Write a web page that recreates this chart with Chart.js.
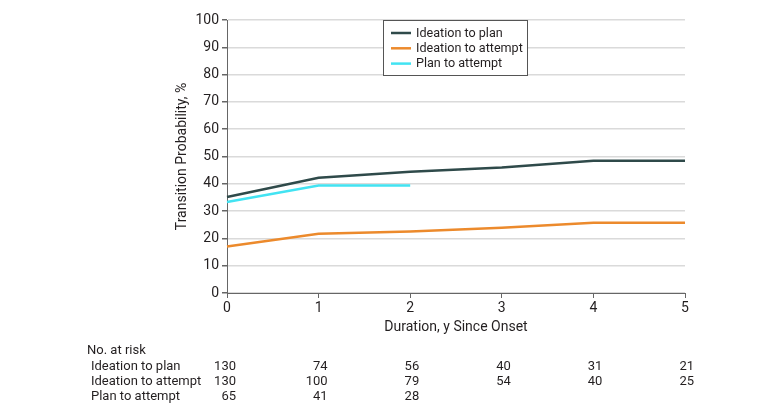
<!DOCTYPE html>
<html>
<head>
<meta charset="utf-8">
<script src="https://cdn.jsdelivr.net/npm/chart.js@4.4.1/dist/chart.umd.min.js"></script>
<style>
  body { margin: 0; background: #fff; }
  #chart { display: block; }
</style>
</head>
<body>
<canvas id="chart" width="780" height="418"></canvas>
<script>
// values
const years = [0, 1, 2, 3, 4, 5];
const ideationToPlan = [35.2, 42.2, 44.4, 46.0, 48.4, 48.4];
const ideationToAttempt = [17.0, 21.7, 22.5, 23.9, 25.7, 25.7];
const planToAttempt = [33.3, 39.4, 39.4, null, null, null];

// number at risk table
const riskRows = ["Ideation to plan", "Ideation to attempt", "Plan to attempt"];
const riskIdeationToPlan = [130, 74, 56, 40, 31, 21];
const riskIdeationToAttempt = [130, 100, 79, 54, 40, 25];
const riskPlanToAttempt = [65, 41, 28];

const textColor = "#231f20";
const fontName = 'Roboto, sans-serif';
Chart.defaults.font.family = fontName;
Chart.defaults.font.size = 13.5;
Chart.defaults.color = textColor;

// boxed legend drawn inside the plot
const boxLegend = {
    id: "boxLegend",
    afterDraw(chart) {
        const ctx = chart.ctx;
        const x = 383.5, y = 20.5, w = 144, h = 55;
        ctx.save();
        ctx.fillStyle = "#fff";
        ctx.fillRect(x, y, w, h);
        ctx.strokeStyle = "#555";
        ctx.lineWidth = 1;
        ctx.strokeRect(x, y, w, h);
        ctx.font = '12.6px ' + fontName;
        ctx.textBaseline = "middle";
        chart.data.datasets.forEach((ds, i) => {
            const cy = 33 + i * 15.3;
            ctx.strokeStyle = ds.borderColor;
            ctx.lineWidth = 2.5;
            ctx.beginPath();
            ctx.moveTo(391, cy);
            ctx.lineTo(411, cy);
            ctx.stroke();
            ctx.fillStyle = textColor;
            ctx.fillText(ds.label, 416, cy + 0.5);
        });
        ctx.restore();
    }
};

// "No. at risk" table under the x axis
const riskTable = {
    id: "riskTable",
    afterDraw(chart) {
        const ctx = chart.ctx;
        const xs = chart.scales.x;
        const lists = [riskIdeationToPlan, riskIdeationToAttempt, riskPlanToAttempt];
        ctx.save();
        ctx.font = '13px ' + fontName;
        ctx.fillStyle = textColor;
        ctx.textBaseline = "middle";
        ctx.textAlign = "left";
        ctx.fillText("No. at risk", 87, 351);
        riskRows.forEach((name, r) => {
            const cy = 366.5 + r * 15.3;
            ctx.textAlign = "left";
            ctx.fillText(name, 91, cy);
            ctx.textAlign = "right";
            lists[r].forEach((v, i) => {
                ctx.fillText(String(v), xs.getPixelForValue(i) + 9, cy);
            });
        });
        ctx.restore();
    }
};

new Chart(document.getElementById("chart"), {
    type: "line",
    data: {
        labels: years,
        datasets: [
            { label: "Ideation to plan", data: ideationToPlan, borderColor: "#2f4a4a" },
            { label: "Ideation to attempt", data: ideationToAttempt, borderColor: "#ec8a2c" },
            { label: "Plan to attempt", data: planToAttempt, borderColor: "#42e3f2" }
        ]
    },
    options: {
        responsive: false,
        animation: false,
        layout: { padding: { left: 170, right: 95, top: 20, bottom: 78 } },
        elements: {
            line: { borderWidth: 2.5, tension: 0, fill: false },
            point: { radius: 0 }
        },
        plugins: {
            legend: { display: false },
            tooltip: { enabled: false }
        },
        scales: {
            x: {
                type: "category",
                offset: false,
                grid: { drawOnChartArea: false, tickLength: 5, tickColor: "#666" },
                border: { color: "#666", width: 1 },
                ticks: { padding: 2, maxRotation: 0, font: { size: 14 } },
                title: { display: true, text: "Duration, y Since Onset", font: { size: 14 }, padding: { top: 4, bottom: 4 } },
                afterFit(s) { s.height = 47; }
            },
            y: {
                min: 0,
                max: 100,
                ticks: { stepSize: 10, padding: 3, font: { size: 14 } },
                grid: { color: "#dadada", lineWidth: 1.5, tickLength: 5, tickColor: "#666" },
                border: { color: "#666", width: 1 },
                title: { display: true, text: "Transition Probability, %", font: { size: 14 }, padding: { top: 4, bottom: 4 } },
                afterFit(s) { s.width = 57; }
            }
        }
    },
    plugins: [boxLegend, riskTable]
});
</script>
</body>
</html>
